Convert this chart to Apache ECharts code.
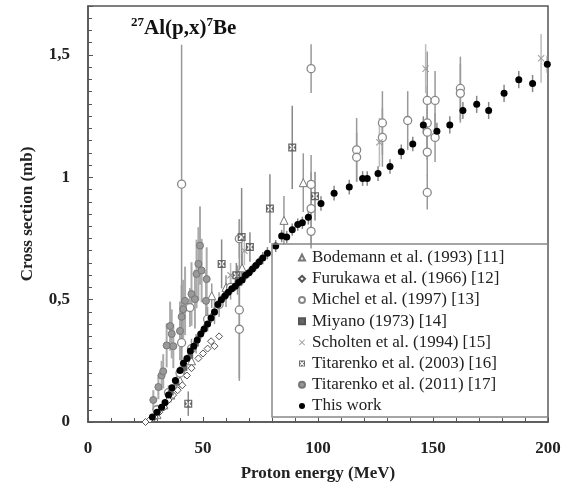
<!DOCTYPE html>
<html>
<head>
<meta charset="utf-8">
<script src="https://cdn.jsdelivr.net/npm/echarts@6/dist/echarts.min.js"></script>
<style>
  html, body { margin: 0; padding: 0; background: #fff; }
  #main { width: 570px; height: 495px; }
</style>
</head>
<body>
<div id="main"></div>
<script>
// [E (MeV), sigma (mb), err] or [E, sigma, errDown, errUp]
var bodemann = [[30, 0.03, 0.02], [33, 0.07, 0.02], [36, 0.11, 0.03], [40, 0.17, 0.03], [45, 0.25, 0.04],
  [53.8, 0.516, 0.05], [60, 0.55, 0.05], [67, 0.63, 0.06], [85.2, 0.824, 0.1], [93.6, 0.978, 0.12]]
var furukawa = [[25, 0.0, 0], [27, 0.01, 0], [29, 0.02, 0], [31, 0.04, 0], [33, 0.06, 0], [35, 0.09, 0],
  [37, 0.11, 0], [39, 0.13, 0], [41, 0.15, 0], [43, 0.19, 0], [45, 0.22, 0], [48, 0.26, 0], [50, 0.28, 0],
  [52, 0.3, 0], [53.5, 0.33, 0], [55, 0.31, 0], [57, 0.35, 0]]
var michel = [[30, 0.05, 0.02], [35, 0.12, 0.03], [40, 0.2, 0.03], [40.7, 0.324, 0.1], [40.7, 0.972, 0.77, 0.57],
  [44.3, 0.468, 0.08], [45, 0.3, 0.04], [52, 0.42, 0.05], [57, 0.48, 0.05], [62, 0.55, 0.05],
  [65.8, 0.749, 0.08], [65.8, 0.458, 0.29, 0.37], [65.8, 0.379, 0.2], [97, 1.444, 0.1], [97, 0.971, 0.12],
  [97, 0.872, 0.15], [97, 0.779, 0.07], [116.8, 1.112, 0.13], [116.8, 1.082, 0.1], [128, 1.222, 0.13],
  [128, 1.163, 0.12], [139, 1.232, 0.12], [147.5, 1.314, 0.2], [147.5, 1.222, 0.15], [147.5, 1.184, 0.1],
  [147.5, 1.103, 0.1], [147.5, 0.938, 0.07], [150.9, 1.314, 0.12], [150.9, 1.163, 0.1],
  [161.9, 1.363, 0.13], [161.9, 1.343, 0.12]]
var miyano = [[36, 0.12, 0.03], [38.5, 0.16, 0.03], [42, 0.22, 0.04], [44.5, 0.27, 0.04], [47, 0.32, 0.04],
  [55, 0.45, 0.05], [60, 0.52, 0.05], [65, 0.58, 0.06]]
var scholten = [[62, 0.6, 0.05], [68, 0.7, 0.06], [126.7, 1.143, 0.1], [146.8, 1.444, 0.1], [197, 1.486, 0.1]]
var titarenko03 = [[43.6, 0.075, 0.05], [58.1, 0.646, 0.1], [64.5, 0.6, 0.05], [66.8, 0.756, 0.2],
  [70.4, 0.715, 0.06], [79.1, 0.872, 0.14], [88.8, 1.122, 0.17], [98.7, 0.923, 0.1]]
var titarenko11 = [[28.4, 0.09, 0.04], [30.6, 0.143, 0.05], [32, 0.19, 0.06], [32.7, 0.207, 0.07],
  [34.2, 0.313, 0.09], [35.7, 0.392, 0.1], [36.4, 0.36, 0.1], [37.1, 0.31, 0.09], [40, 0.372, 0.12],
  [40.7, 0.43, 0.13], [41.4, 0.461, 0.12], [42.2, 0.495, 0.14], [45, 0.523, 0.13], [46.5, 0.502, 0.12],
  [47.2, 0.605, 0.14], [48, 0.646, 0.15], [48.7, 0.721, 0.16], [49.4, 0.619, 0.13], [51.3, 0.495, 0.12],
  [51.6, 0.584, 0.13]]
var thisWork = [[28, 0.02, 0.01], [30, 0.04, 0.01], [32, 0.06, 0.01], [33.5, 0.08, 0.01], [35, 0.11, 0.01],
  [36.5, 0.14, 0.01], [38, 0.17, 0.01], [40, 0.21, 0.015], [41.5, 0.24, 0.015], [43, 0.26, 0.015],
  [44.5, 0.29, 0.015], [46, 0.31, 0.015], [47.5, 0.335, 0.02], [49, 0.36, 0.02], [50.5, 0.38, 0.02],
  [52, 0.4, 0.02], [53.5, 0.425, 0.02], [55, 0.45, 0.02], [56.5, 0.48, 0.02], [58, 0.5, 0.02],
  [59.5, 0.515, 0.02], [61, 0.53, 0.02], [62.5, 0.545, 0.02], [64, 0.555, 0.02], [65.5, 0.57, 0.02],
  [67, 0.58, 0.02], [68.5, 0.6, 0.02], [70, 0.61, 0.02], [71.5, 0.625, 0.02], [73, 0.64, 0.02],
  [74.5, 0.655, 0.02], [76, 0.67, 0.025], [78, 0.69, 0.025], [81.6, 0.719, 0.025], [84.2, 0.76, 0.025],
  [86.4, 0.756, 0.025], [88.8, 0.786, 0.025], [91.2, 0.807, 0.025], [93.2, 0.814, 0.025], [95.8, 0.837, 0.03],
  [101.3, 0.893, 0.03], [107, 0.935, 0.03], [113.6, 0.96, 0.03], [119.4, 0.995, 0.03], [121.4, 0.995, 0.03],
  [126.1, 1.015, 0.03], [131.3, 1.044, 0.03], [136.2, 1.104, 0.03], [141.2, 1.136, 0.03], [145.8, 1.214, 0.035],
  [151.7, 1.188, 0.035], [157.3, 1.214, 0.035], [163, 1.273, 0.035], [169, 1.298, 0.035], [174.2, 1.273, 0.035],
  [180.9, 1.343, 0.035], [187.3, 1.399, 0.035], [193.3, 1.383, 0.035], [199.7, 1.462, 0.035]]

var xTicks = [0, 50, 100, 150, 200]
var yTicks = [0, 0.5, 1, 1.5]

var FONT = 'Liberation Serif'
var Y_MAX = 1.7

function bars (data, color, width) {
  var rows = data.map(function (d) {
    var dn = d[2], up = d.length > 3 ? d[3] : d[2]
    return [d[0], d[1], Math.max(0, d[1] - dn), Math.min(Y_MAX, d[1] + up)]
  }).filter(function (r) { return r[3] > r[2] })
  return {
    type: 'custom',
    silent: true,
    data: rows,
    encode: { x: 0, y: 1 },
    z: 1,
    renderItem: function (params, api) {
      var a = api.coord([api.value(0), api.value(2)])
      var b = api.coord([api.value(0), api.value(3)])
      return {
        type: 'line',
        shape: { x1: a[0], y1: a[1], x2: b[0], y2: b[1] },
        style: { stroke: color, lineWidth: width }
      }
    }
  }
}

function pts (name, data, symbol, size, fill, border, bw) {
  return {
    name: name,
    type: 'scatter',
    symbol: symbol,
    symbolSize: size,
    z: 3,
    data: data.map(function (d) { return [d[0], d[1]] }),
    itemStyle: { color: fill, borderColor: border, borderWidth: bw, opacity: 1 }
  }
}

var crossPath = 'path://M0,1L1,0L5,4L9,0L10,1L6,5L10,9L9,10L5,6L1,10L0,9L4,5Z'
var boxCross = 'path://M0,0H10V10H0ZM1.5,1.5V3L3.5,5L1.5,7V8.5H3L5,6.5L7,8.5H8.5V7L6.5,5L8.5,3V1.5H7L5,3.5L3,1.5Z'

var names = ['Bodemann et al. (1993) [11]', 'Furukawa et al. (1966) [12]', 'Michel et al. (1997) [13]',
  'Miyano (1973) [14]', 'Scholten et al. (1994) [15]', 'Titarenko et al. (2003) [16]',
  'Titarenko et al. (2011) [17]', 'This work']

var myChart = echarts.init(document.getElementById('main'))

var option = {
  animation: false,
  backgroundColor: '#fff',
  title: {
    text: '{s|27}{b|Al(p,x)}{s|7}{b|Be}',
    left: 126,
    top: 11,
    textStyle: {
      rich: {
        b: { fontFamily: FONT, fontWeight: 'bold', fontSize: 21, color: '#111', lineHeight: 26 },
        s: { fontFamily: FONT, fontWeight: 'bold', fontSize: 13, color: '#111', verticalAlign: 'top', lineHeight: 26, padding: [0, 0, 10, 0] }
      }
    }
  },
  grid: {
    left: 88, right: 22, top: 6, bottom: 73,
    show: true, borderColor: '#555', borderWidth: 1.5, containLabel: false
  },
  legend: {
    orient: 'vertical',
    left: 298,
    top: 247,
    padding: 0,
    itemGap: 0,
    itemWidth: 6,
    itemHeight: 6,
    data: names,
    selectedMode: false,
    textStyle: { fontFamily: FONT, fontSize: 17, color: '#222', lineHeight: 21.2, padding: [0, 0, 0, 2] }
  },
  graphic: [{
    type: 'rect',
    shape: { x: 272, y: 244, width: 276, height: 173 },
    style: { fill: 'none', stroke: '#888', lineWidth: 1.5 },
    z: 10
  }],
  xAxis: {
    type: 'value',
    min: 0, max: 200, interval: 50,
    name: 'Proton energy (MeV)',
    nameLocation: 'middle',
    nameGap: 43,
    nameTextStyle: { fontFamily: FONT, fontWeight: 'bold', fontSize: 17, color: '#222' },
    axisLine: { lineStyle: { color: '#555', width: 1.5 } },
    axisTick: { inside: true, length: 5, lineStyle: { color: '#555' } },
    minorTick: { show: true, splitNumber: 5, length: 4, lineStyle: { color: '#555' } },
    splitLine: { show: false },
    axisLabel: {
      margin: 18, fontFamily: FONT, fontWeight: 'bold', fontSize: 17, color: '#222',
      formatter: function (v) { return xTicks.indexOf(v) >= 0 ? String(v) : '' }
    }
  },
  yAxis: {
    type: 'value',
    min: 0, max: Y_MAX, interval: 0.5,
    name: 'Cross section (mb)',
    nameLocation: 'middle',
    nameGap: 52,
    nameTextStyle: { fontFamily: FONT, fontWeight: 'bold', fontSize: 17, color: '#222' },
    axisLine: { lineStyle: { color: '#555', width: 1.5 } },
    axisTick: { inside: true, length: 5, lineStyle: { color: '#555' } },
    minorTick: { show: true, splitNumber: 10, length: 4, lineStyle: { color: '#555' } },
    splitLine: { show: false },
    axisLabel: {
      margin: 18, fontFamily: FONT, fontWeight: 'bold', fontSize: 17, color: '#222',
      showMaxLabel: false,
      formatter: function (v) { return yTicks.indexOf(v) >= 0 ? String(v).replace('.', ',') : '' }
    }
  },
  series: [
    bars(titarenko11, '#aaa', 2),
    bars(michel, '#999', 1.5),
    bars(bodemann, '#999', 1.5),
    bars(miyano, '#999', 1.5),
    bars(scholten, '#bbb', 1.5),
    bars(titarenko03, '#888', 1.5),
    bars(thisWork, '#888', 1.5),
    pts(names[0], bodemann, 'triangle', 8, '#fff', '#777', 1),
    pts(names[1], furukawa, 'diamond', 7, '#fff', '#555', 1),
    pts(names[2], michel, 'circle', 8, '#fff', '#888', 1.3),
    pts(names[3], miyano, 'rect', 5, '#666', '#555', 0.5),
    pts(names[4], scholten, crossPath, 7, '#999', '#999', 0),
    pts(names[5], titarenko03, boxCross, 8, '#666', '#666', 0),
    pts(names[6], titarenko11, 'circle', 7, '#999', '#777', 1),
    pts(names[7], thisWork, 'circle', 7, '#000', '#000', 0)
  ]
}

myChart.setOption(option)
</script>
</body>
</html>
